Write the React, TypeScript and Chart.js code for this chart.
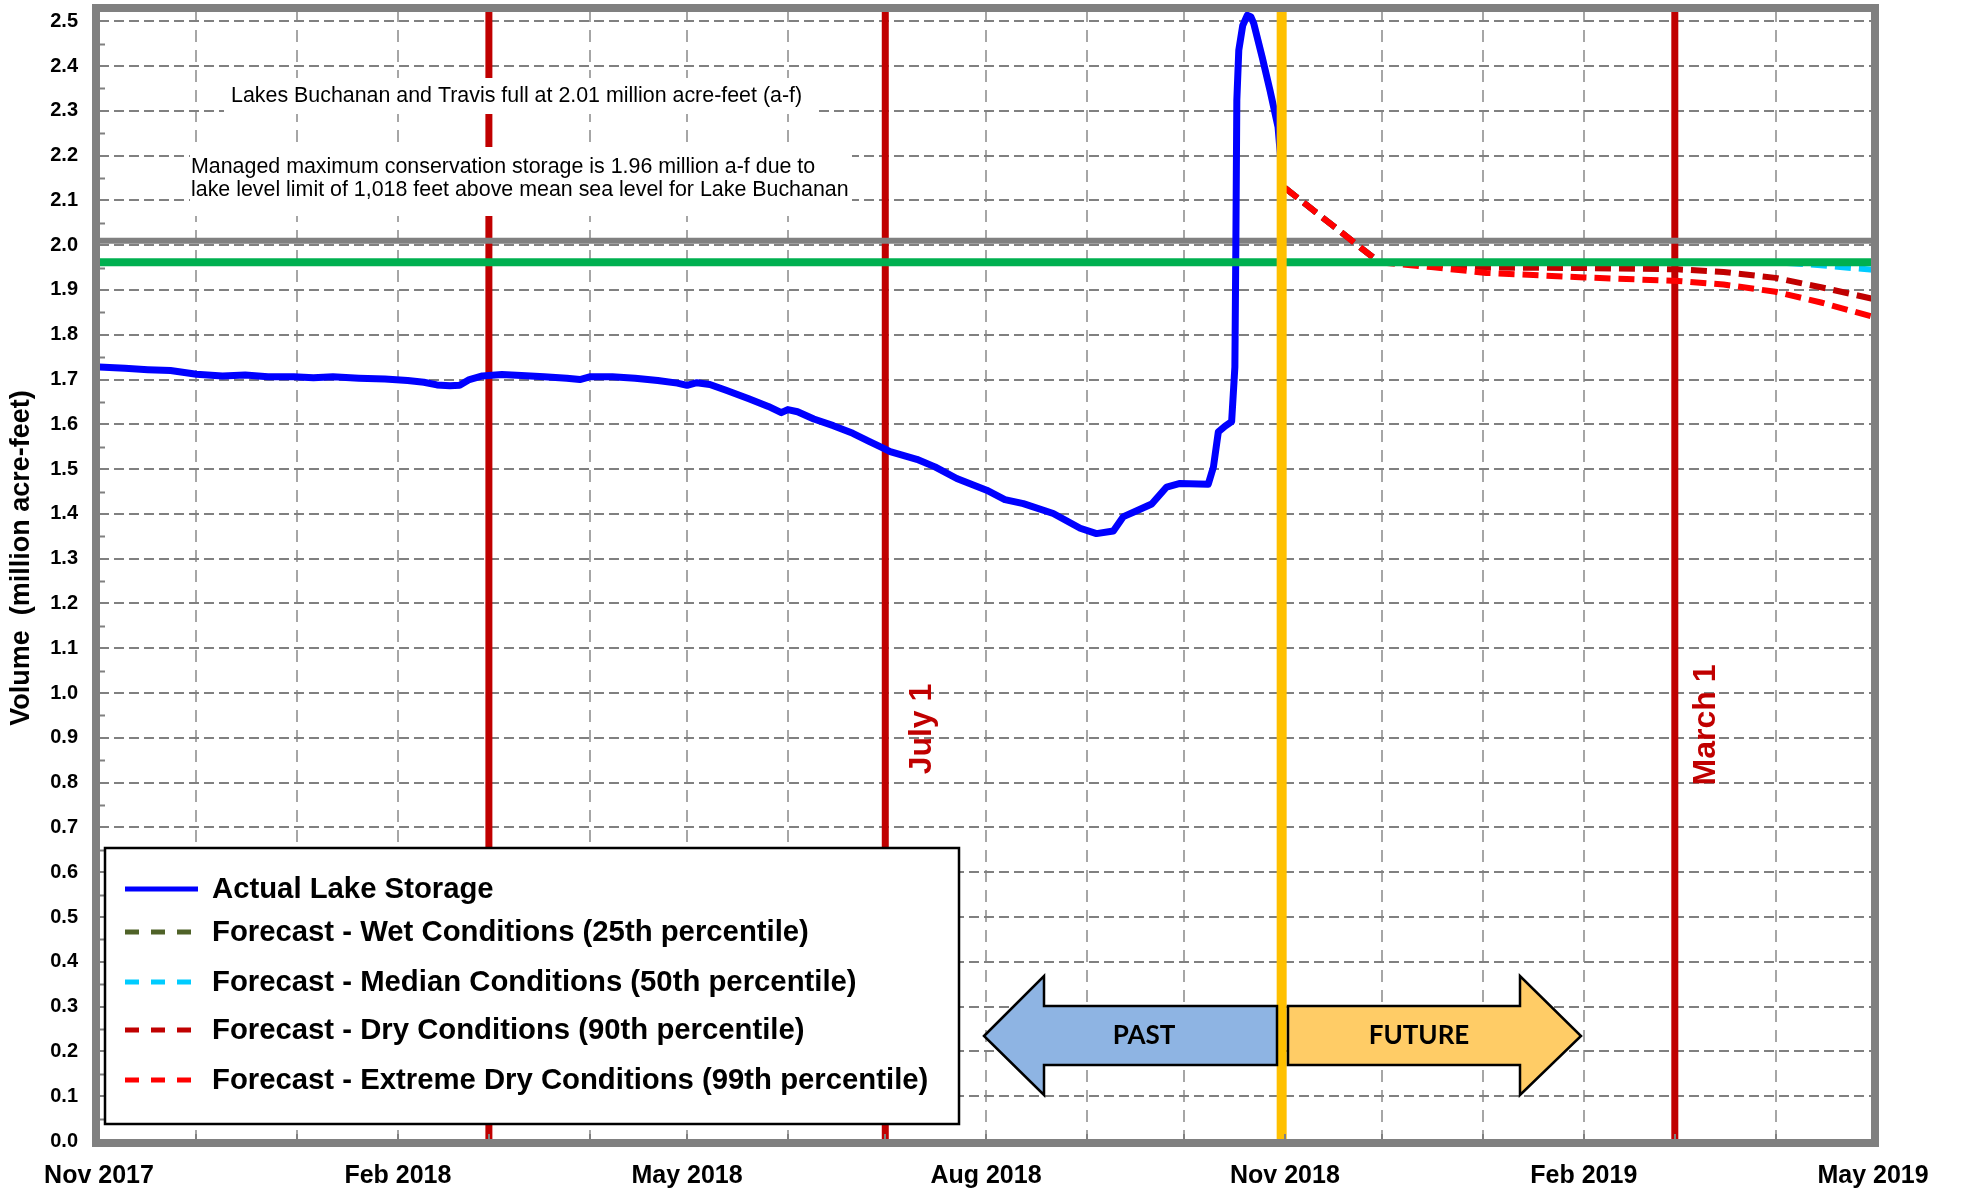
import React, { useEffect, useRef } from 'react';
import { Chart, registerables } from 'chart.js';

Chart.register(...registerables);

// x values are days counted from 1 Nov 2017
const monthTickDays = [0, 30, 61, 92, 120, 151, 181, 212, 242, 273, 304, 334, 365, 395, 426, 457, 485, 516, 546];
const xLabelDays = [0, 92, 181, 273, 365, 457, 546];
const xLabelTexts = ['Nov 2017', 'Feb 2018', 'May 2018', 'Aug 2018', 'Nov 2018', 'Feb 2019', 'May 2019'];
const yTicks = [0, 0.1, 0.2, 0.3, 0.4, 0.5, 0.6, 0.7, 0.8, 0.9, 1.0, 1.1, 1.2, 1.3, 1.4, 1.5, 1.6, 1.7, 1.8, 1.9, 2.0, 2.1, 2.2, 2.3, 2.4, 2.5];
const yMinorTicks = [0.05, 0.15, 0.25, 0.35, 0.45, 0.55, 0.65, 0.75, 0.85, 0.95, 1.05, 1.15, 1.25, 1.35, 1.45, 1.55, 1.65, 1.75, 1.85, 1.95, 2.05, 2.15, 2.25, 2.35, 2.45];
const yMin = 0;
const yMax = 2.525;
const xMin = 0;
const xMax = 546;

const actualDays = [0, 8, 15, 22, 30, 38, 45, 52, 60, 66, 72, 80, 88, 95, 100, 104, 108, 111, 114, 118, 124, 130, 137, 144, 148, 151, 158, 165, 172, 178, 181, 184, 188, 193, 200, 206, 210, 212, 215, 220, 226, 232, 237, 240.4, 243.5, 251.7, 257.3, 264, 273.2, 278.8, 284.5, 293.7, 302, 307, 312.2, 315.3, 319.4, 324, 328.6, 332.7, 341.4, 343, 344.5, 346.6, 348.6, 349.6, 349.9, 350.2, 350.8, 352, 353.4, 354.5, 355.4, 358, 360.4, 362.9, 364];
const actualStorage = [1.728, 1.725, 1.722, 1.720, 1.712, 1.708, 1.710, 1.706, 1.706, 1.704, 1.706, 1.703, 1.701, 1.698, 1.694, 1.688, 1.686, 1.687, 1.700, 1.708, 1.711, 1.709, 1.706, 1.703, 1.700, 1.706, 1.706, 1.703, 1.698, 1.692, 1.687, 1.693, 1.689, 1.676, 1.657, 1.640, 1.626, 1.633, 1.628, 1.612, 1.597, 1.580, 1.562, 1.550, 1.539, 1.522, 1.505, 1.479, 1.453, 1.432, 1.423, 1.401, 1.368, 1.356, 1.362, 1.394, 1.407, 1.422, 1.460, 1.468, 1.466, 1.505, 1.583, 1.596, 1.606, 1.728, 2.0, 2.324, 2.435, 2.49, 2.513, 2.51, 2.495, 2.42, 2.346, 2.263, 2.167];

const forecastDays = [365, 394, 410, 427, 457, 486, 500, 516, 530, 546];
const wetForecast = [2.128, 1.962, 1.962, 1.962, 1.962, 1.962, 1.962, 1.962, 1.962, 1.962];
const medianForecast = [2.128, 1.962, 1.962, 1.962, 1.962, 1.962, 1.962, 1.962, 1.955, 1.945];
const dryForecast = [2.128, 1.962, 1.957, 1.950, 1.949, 1.946, 1.940, 1.927, 1.906, 1.880];
const extremeDryForecast = [2.128, 1.962, 1.951, 1.938, 1.928, 1.920, 1.912, 1.896, 1.872, 1.840];

const fullCapacity = 2.01;
const managedMaximum = 1.962;
const todayDay = 364;
const markerDays = [120, 242, 485];

const seriesLabels = [
  'Actual Lake Storage',
  'Forecast - Wet Conditions (25th percentile)',
  'Forecast - Median Conditions (50th percentile)',
  'Forecast - Dry Conditions (90th percentile)',
  'Forecast - Extreme Dry Conditions (99th percentile)',
];
const seriesColors = ['#0000FF', '#4F6228', '#00CCFF', '#C00000', '#FF0000'];
const seriesDashed = [false, true, true, true, true];

const yTitle = 'Volume  (million acre-feet)';
const fullNote = 'Lakes Buchanan and Travis full at 2.01 million acre-feet (a-f)';
const managedNote = [
  'Managed maximum conservation storage is 1.96 million a-f due to',
  'lake level limit of 1,018 feet above mean sea level for Lake Buchanan',
];
const markerLabels = ['July 1', 'March 1'];
const arrowLabels = ['PAST', 'FUTURE'];

const FONT = "'Liberation Sans', Arial, Helvetica, sans-serif";

const pts = (xs: number[], ys: number[]) => xs.map((x, i) => ({ x, y: ys[i] }));

const baseLine = {
  pointRadius: 0,
  pointHoverRadius: 0,
  tension: 0,
  fill: false,
  borderJoinStyle: 'round' as const,
};

const overlayPlugin = {
  id: 'overlay',
  afterDatasetsDraw(chart: any) {
    const ctx: CanvasRenderingContext2D = chart.ctx;
    const a = chart.chartArea;
    const xs = chart.scales.x;
    const ys = chart.scales.y;
    ctx.save();
    // minor tick marks inside the frame
    ctx.strokeStyle = '#808080';
    ctx.lineWidth = 2;
    ctx.beginPath();
    yMinorTicks.forEach((v) => {
      const py = Math.round(ys.getPixelForValue(v)) + 0.5;
      ctx.moveTo(a.left, py);
      ctx.lineTo(a.left + 6, py);
    });
    monthTickDays.forEach((d) => {
      const px = Math.round(xs.getPixelForValue(d));
      ctx.moveTo(px, a.bottom);
      ctx.lineTo(px, a.bottom - 7);
    });
    ctx.stroke();

    // annotation boxes
    ctx.fillStyle = '#ffffff';
    ctx.fillRect(224, 78, 594, 36);
    ctx.fillRect(190, 147, 662, 69);
    ctx.fillStyle = '#000';
    ctx.font = `21.4px ${FONT}`;
    ctx.textBaseline = 'alphabetic';
    ctx.textAlign = 'left';
    ctx.fillText(fullNote, 231, 102);
    ctx.fillText(managedNote[0], 191, 173);
    ctx.fillText(managedNote[1], 191, 196);

    // marker labels
    ctx.fillStyle = '#C00000';
    ctx.font = `bold 32px ${FONT}`;
    ctx.textAlign = 'center';
    ctx.textBaseline = 'middle';
    const lblPos = [[922, 729], [1706, 725]];
    markerLabels.forEach((t, i) => {
      ctx.save();
      ctx.translate(lblPos[i][0], lblPos[i][1]);
      ctx.rotate(-Math.PI / 2);
      ctx.fillText(t, 0, 0);
      ctx.restore();
    });

    // arrows
    const yHT = 976, yBT = 1006, yM = 1036, yBB = 1065, yHB = 1095;
    const drawPoly = (p: number[][], fill: string) => {
      ctx.beginPath();
      ctx.moveTo(p[0][0], p[0][1]);
      for (let i = 1; i < p.length; i++) ctx.lineTo(p[i][0], p[i][1]);
      ctx.closePath();
      ctx.fillStyle = fill;
      ctx.fill();
      ctx.lineWidth = 2.5;
      ctx.strokeStyle = '#000';
      ctx.lineJoin = 'miter';
      ctx.stroke();
    };
    drawPoly([[984, yM], [1044, yHT], [1044, yBT], [1277, yBT], [1277, yBB], [1044, yBB], [1044, yHB]], '#8EB4E3');
    drawPoly([[1288, yBT], [1520, yBT], [1520, yHT], [1581, yM], [1520, yHB], [1520, yBB], [1288, yBB]], '#FFCC66');
    ctx.fillStyle = '#000';
    ctx.font = `bold 26px Lato, 'Open Sans', ${FONT}`;
    ctx.textAlign = 'center';
    ctx.textBaseline = 'middle';
    ctx.fillText(arrowLabels[0], 1144, yM);
    ctx.fillText(arrowLabels[1], 1419, yM);

    // legend
    ctx.fillStyle = '#fff';
    ctx.fillRect(105, 848, 854, 276);
    ctx.lineWidth = 2.5;
    ctx.strokeStyle = '#000';
    ctx.strokeRect(105, 848, 854, 276);
    const rows = [889, 932, 982, 1030, 1080];
    seriesLabels.forEach((label, i) => {
      ctx.beginPath();
      ctx.strokeStyle = seriesColors[i];
      ctx.lineWidth = 5;
      ctx.lineCap = 'butt';
      ctx.setLineDash(seriesDashed[i] ? [14, 12] : []);
      ctx.moveTo(125, rows[i]);
      ctx.lineTo(198, rows[i]);
      ctx.stroke();
      ctx.setLineDash([]);
      ctx.fillStyle = '#000';
      ctx.font = `bold 29.3px ${FONT}`;
      ctx.textAlign = 'left';
      ctx.textBaseline = 'middle';
      ctx.fillText(label, 212, rows[i] + 1);
    });
    ctx.restore();
  },
  afterDraw(chart: any) {
    const ctx: CanvasRenderingContext2D = chart.ctx;
    const a = chart.chartArea;
    ctx.save();
    ctx.strokeStyle = '#808080';
    ctx.lineWidth = 8;
    ctx.setLineDash([]);
    ctx.strokeRect(a.left - 3, a.top - 2, a.right - a.left + 5, a.bottom - a.top + 4);
    // y axis title
    ctx.fillStyle = '#000';
    ctx.font = `bold 27px ${FONT}`;
    ctx.textAlign = 'center';
    ctx.textBaseline = 'middle';
    ctx.translate(22, 558);
    ctx.rotate(-Math.PI / 2);
    ctx.fillText(yTitle, 0, 0);
    ctx.restore();
  },
};

export default function App() {
  const ref = useRef<HTMLCanvasElement>(null);
  useEffect(() => {
    document.body.style.margin = '0';
    const canvas = ref.current;
    if (!canvas) return;
    const dashed = [16, 8];
    const chart = new Chart(canvas, {
      type: 'line',
      data: {
        datasets: [
          { ...baseLine, label: 'today', data: pts([todayDay, todayDay], [yMin, yMax]), borderColor: '#FFC000', borderWidth: 10 },
          { ...baseLine, label: 'managed', data: pts([xMin, xMax], [managedMaximum, managedMaximum]), borderColor: '#00B050', borderWidth: 8 },
          { ...baseLine, label: seriesLabels[0], data: pts(actualDays, actualStorage), borderColor: seriesColors[0], borderWidth: 7 },
          { ...baseLine, label: seriesLabels[4], data: pts(forecastDays, extremeDryForecast), borderColor: seriesColors[4], borderWidth: 6, borderDash: dashed },
          { ...baseLine, label: seriesLabels[3], data: pts(forecastDays, dryForecast), borderColor: seriesColors[3], borderWidth: 6, borderDash: dashed },
          { ...baseLine, label: seriesLabels[2], data: pts(forecastDays, medianForecast), borderColor: seriesColors[2], borderWidth: 6, borderDash: dashed },
          { ...baseLine, label: seriesLabels[1], data: pts(forecastDays, wetForecast), borderColor: seriesColors[1], borderWidth: 6, borderDash: dashed },
          { ...baseLine, label: 'full', data: pts([xMin, xMax], [fullCapacity, fullCapacity]), borderColor: '#808080', borderWidth: 6 },
          ...markerDays.map((d) => ({ ...baseLine, label: 'marker', data: pts([d, d], [yMin, yMax]), borderColor: '#C00000', borderWidth: 7 })),
        ],
      },
      options: {
        responsive: false,
        maintainAspectRatio: false,
        animation: false,
        devicePixelRatio: 1,
        layout: { padding: { top: 10, right: 88, left: 0, bottom: 0 } },
        plugins: { legend: { display: false }, tooltip: { enabled: false } },
        scales: {
          x: {
            type: 'linear',
            min: xMin,
            max: xMax,
            afterBuildTicks: (s: any) => { s.ticks = monthTickDays.map((v) => ({ value: v })); },
            afterFit: (s: any) => { s.height = 50; },
            ticks: {
              autoSkip: false,
              maxRotation: 0,
              minRotation: 0,
              padding: 23,
              color: '#000',
              font: { family: FONT, size: 25, weight: 'bold', lineHeight: 1 },
              callback: (v: any) => {
                const i = xLabelDays.indexOf(Number(v));
                return i >= 0 ? xLabelTexts[i] : '';
              },
            },
            grid: { color: '#A6A6A6', lineWidth: 2, drawTicks: false },
            border: { display: false, dash: [12, 8] },
          },
          y: {
            type: 'linear',
            min: yMin,
            max: yMax,
            afterBuildTicks: (s: any) => { s.ticks = yTicks.map((v) => ({ value: v })); },
            afterFit: (s: any) => { s.width = 99; },
            ticks: {
              padding: 0,
              color: '#000',
              font: { family: FONT, size: 20, weight: 'bold', lineHeight: 1 },
              callback: (v: any) => Number(v).toFixed(1),
            },
            grid: { color: '#808080', lineWidth: 2, drawTicks: true, tickLength: 21, tickColor: 'rgba(0,0,0,0)' },
            border: { display: false, dash: [10, 5] },
          },
        },
      },
      plugins: [overlayPlugin],
    } as any);
    return () => chart.destroy();
  }, []);
  return (
    <div style={{ position: 'absolute', left: 0, top: 0, width: 1961, height: 1191, background: '#fff' }}>
      <canvas ref={ref} width={1961} height={1191} style={{ display: 'block' }} />
    </div>
  );
}
